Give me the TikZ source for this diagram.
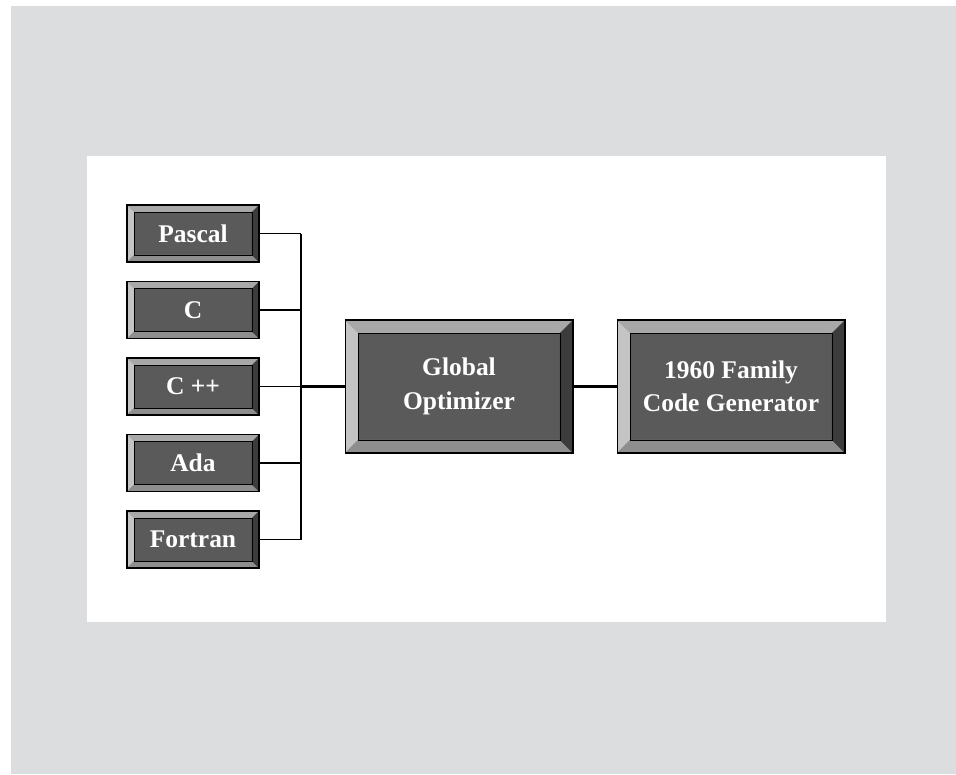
\documentclass[tikz,border=0pt]{standalone}
\usepackage{fontspec}
\setmainfont{Liberation Serif}
\usepackage{tikz}

\definecolor{pagegray}{HTML}{DCDDDF}
\definecolor{facegray}{HTML}{5A5A5A}
\definecolor{bevtop}{HTML}{A8A8A8}
\definecolor{bevleft}{HTML}{C4C4C4}
\definecolor{bevbottom}{HTML}{8E8E8E}
\definecolor{bevright}{HTML}{3C3C3C}

\begin{document}
\begin{tikzpicture}[x=0.02cm, y=-0.02cm,
  bev/.store in=\bevw, bev=0.14cm,
  bevelbox/.style={draw=black, line width=0.6pt, fill=facegray, text=white, align=center, inner sep=0pt,
    font=\bfseries\fontsize{14.5}{19}\selectfont,
    path picture={
      \path (path picture bounding box.south west) coordinate (sw)
            (path picture bounding box.north east) coordinate (ne);
      \fill[bevtop] (sw|-ne) -- (ne) -- ([xshift=-\bevw,yshift=-\bevw]ne) -- ([xshift=\bevw,yshift=-\bevw]sw|-ne) -- cycle;
      \fill[bevleft] (sw|-ne) -- (sw) -- ([xshift=\bevw,yshift=\bevw]sw) -- ([xshift=\bevw,yshift=-\bevw]sw|-ne) -- cycle;
      \fill[bevbottom] (sw) -- (ne|-sw) -- ([xshift=-\bevw,yshift=\bevw]ne|-sw) -- ([xshift=\bevw,yshift=\bevw]sw) -- cycle;
      \fill[bevright] (ne) -- (ne|-sw) -- ([xshift=-\bevw,yshift=\bevw]ne|-sw) -- ([xshift=-\bevw,yshift=-\bevw]ne) -- cycle;
      \draw[black, line width=0.5pt] ([xshift=\bevw,yshift=\bevw]sw) rectangle ([xshift=-\bevw,yshift=-\bevw]ne);
    }},
  lang/.style={bevelbox, bev=0.14cm, minimum width=2.64cm, minimum height=1.14cm},
  big/.style={bevelbox, bev=0.26cm, minimum width=4.56cm, minimum height=2.66cm},
  wire/.style={black, line width=1.1pt},
  thickwire/.style={black, line width=1.7pt}]
\useasboundingbox (0,0) rectangle (956,774);
\fill[white] (0,0) rectangle (956,774);
\fill[pagegray] (11,6) rectangle (956,774);
\fill[white] (87,156) rectangle (886,622);

% source languages
\foreach \name/\txt [count=\i] in {pascal/Pascal, c/C, cpp/C ++, ada/Ada, fortran/Fortran}{
	\node[lang] (\name) at (193,{233.5+76.5*(\i-1)}) {\txt};
}

\node[big] (opt) at (459,386.5) {Global\\Optimizer};
\node[big] (gen) at (731,386.5) {1960 Family\\Code Generator};

% bus
\coordinate (bus) at (301,0);
\foreach \name in {pascal,c,cpp,ada,fortran}{
	\draw[wire] (\name.east) -- (\name.east -| bus);
}
\draw[wire] (pascal.east -| bus) -- (fortran.east -| bus);
\draw[thickwire] (opt.west -| bus) -- (opt.west);
\draw[thickwire] (opt.east) -- (gen.west);
\end{tikzpicture}
\end{document}
